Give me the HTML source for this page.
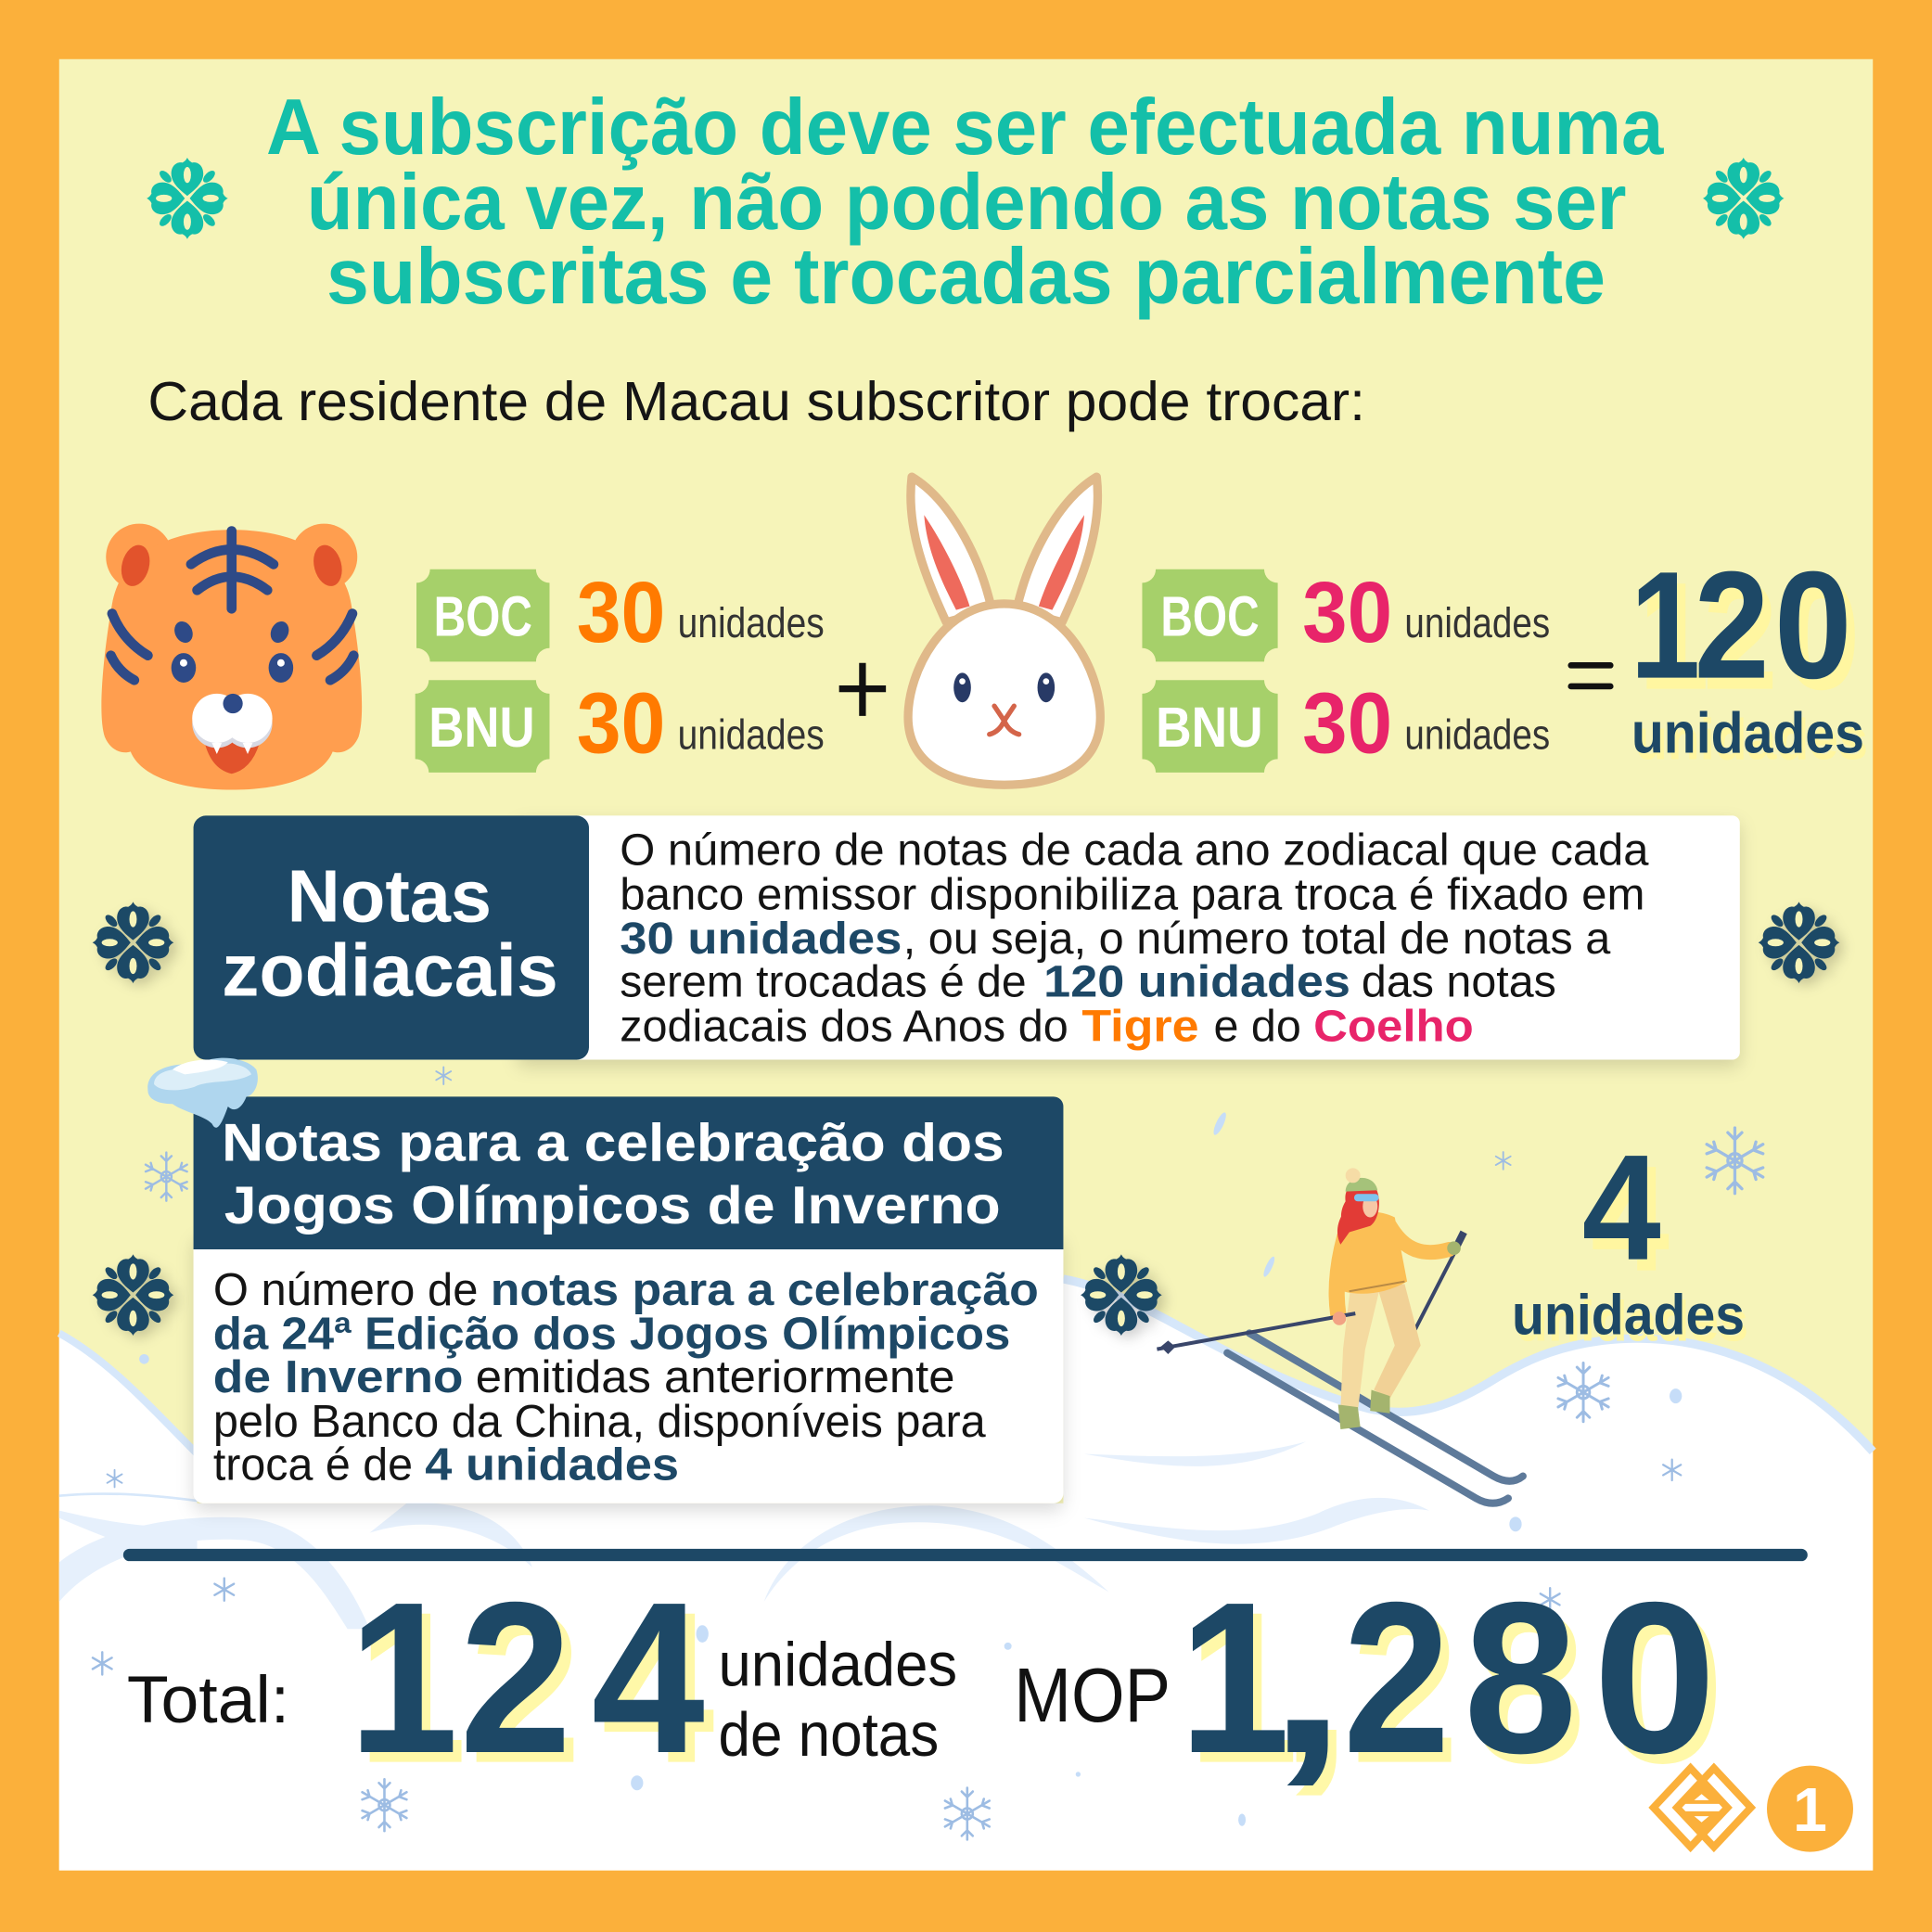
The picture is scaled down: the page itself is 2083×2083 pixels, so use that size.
<!DOCTYPE html>
<html><head><meta charset="utf-8">
<style>html,body{margin:0;padding:0;background:#FBB03B;overflow:hidden}svg{display:block}
text{font-family:"Liberation Sans",Arial,sans-serif}</style></head>
<body>
<svg xmlns="http://www.w3.org/2000/svg" xmlns:xlink="http://www.w3.org/1999/xlink" width="2083" height="2083" viewBox="0 0 1568 1568">
<defs>
<filter id="sh" x="-10%" y="-20%" width="120%" height="150%"><feDropShadow dx="0" dy="6" stdDeviation="7" flood-color="#000" flood-opacity="0.14"/></filter>
<filter id="fsh" x="-40%" y="-40%" width="190%" height="190%"><feDropShadow dx="5" dy="4" stdDeviation="5" flood-color="#000" flood-opacity="0.18"/></filter>
<g id="pet"><path d="M0,-2 C-5,-6 -13,-12 -13,-20 C-13,-27 -8,-30 -4,-29 C-2,-30 -1,-31 0,-33 C1,-31 2,-30 4,-29 C8,-30 13,-27 13,-20 C13,-12 5,-6 0,-2 Z"/><ellipse cx="0" cy="-19" rx="3" ry="6.5" fill="#F6F4B9"/></g>
<g id="flw">
<use xlink:href="#pet"/><use xlink:href="#pet" transform="rotate(90)"/><use xlink:href="#pet" transform="rotate(180)"/><use xlink:href="#pet" transform="rotate(270)"/>
<ellipse cx="0" cy="-25" rx="3.2" ry="6" transform="rotate(45)"/><ellipse cx="0" cy="-25" rx="3.2" ry="6" transform="rotate(135)"/><ellipse cx="0" cy="-25" rx="3.2" ry="6" transform="rotate(225)"/><ellipse cx="0" cy="-25" rx="3.2" ry="6" transform="rotate(315)"/>
</g>
<g id="sfb" fill="none" stroke="#9DBCE3" stroke-width="1.3" stroke-linecap="round">
<path d="M0,-14 V14 M-12,-7 L12,7 M-12,7 L12,-7 M-3,-12 L0,-9 L3,-12 M-3,12 L0,9 L3,12 M-12,-3 L-8,-4.5 L-9,-8 M12,3 L8,4.5 L9,8 M-12,3 L-8,4.5 L-9,8 M12,-3 L8,-4.5 L9,-8"/><circle r="3"/>
</g>
<g id="sfs" fill="none" stroke="#9DBCE3" stroke-width="1.4" stroke-linecap="round"><path d="M0,-7 V7 M-6,-3.5 L6,3.5 M-6,3.5 L6,-3.5"/></g>
</defs>

<rect width="1568" height="1568" fill="#FBB03B"/>
<rect x="48" y="48" width="1472" height="1470" fill="#F6F4B9"/>

<!-- snow -->
<path d="M48,1082 C90,1105 125,1145 160,1180 L160,1220 L863,1220 L863,1038 C900,1045 930,1062 960,1078 C1010,1105 1060,1130 1110,1143 C1150,1152 1180,1140 1215,1118 C1245,1100 1270,1092 1300,1088 C1370,1080 1450,1100 1520,1178 L1520,1518 L48,1518 Z" fill="#FFFFFF"/>
<path d="M48,1082 C90,1105 125,1145 160,1180" fill="none" stroke="#D6E7FA" stroke-width="6"/>
<path d="M863,1038 C900,1045 930,1062 960,1078 C1010,1105 1060,1130 1110,1143 C1150,1152 1180,1140 1215,1118 C1245,1100 1270,1092 1300,1088 C1370,1080 1450,1100 1520,1178" fill="none" stroke="#D6E7FA" stroke-width="7"/>
<g fill="#E6F0FC">
<path d="M48,1300 C80,1262 140,1246 200,1250 C240,1255 262,1290 282,1322 L300,1322 C282,1280 252,1236 200,1232 C140,1228 80,1242 48,1268 Z"/>
<path d="M300,1244 C350,1228 400,1242 432,1272 C420,1238 380,1216 330,1220 Z"/>
<path d="M620,1300 C650,1252 700,1232 760,1236 C820,1240 860,1270 900,1292 C860,1256 820,1226 760,1222 C700,1220 640,1246 620,1300 Z"/>
<path d="M880,1232 C940,1248 1010,1266 1080,1240 C1110,1228 1140,1222 1160,1226 C1130,1210 1100,1214 1070,1228 C1010,1252 950,1240 880,1232 Z"/>
<path d="M880,1180 C940,1190 1000,1200 1060,1170 C1000,1186 940,1182 880,1180 Z"/>
<path d="M48,1232 C90,1250 120,1262 160,1262 L160,1240 C120,1240 90,1236 48,1226 Z"/>
</g>
<path d="M48,1214 C90,1210 130,1214 160,1218" fill="none" stroke="#D6E7FA" stroke-width="2"/>

<!-- title -->
<g fill="#14BFA9" font-weight="bold" font-size="64">
<text x="216" y="125" textLength="1134" lengthAdjust="spacingAndGlyphs">A subscrição deve ser efectuada numa</text>
<text x="249" y="186" textLength="1071" lengthAdjust="spacingAndGlyphs">única vez, não podendo as notas ser</text>
<text x="265" y="246" textLength="1038" lengthAdjust="spacingAndGlyphs">subscritas e trocadas parcialmente</text>
</g>
<use xlink:href="#flw" transform="translate(152,161)" fill="#14BFA9"/>
<use xlink:href="#flw" transform="translate(1415,161)" fill="#14BFA9"/>

<text x="120" y="341" font-size="45" fill="#151515" textLength="988" lengthAdjust="spacingAndGlyphs">Cada residente de Macau subscritor pode trocar:</text>

<!-- tiger -->
<g>
<circle cx="113" cy="452" r="27" fill="#FF9E4F"/><circle cx="263" cy="452" r="27" fill="#FF9E4F"/>
<path d="M188,430 C240,430 278,450 285,490 C292,530 297,580 291,598 C286,610 276,612 270,610 C262,630 230,641 188,641 C146,641 114,630 106,610 C100,612 90,610 85,598 C79,580 84,530 91,490 C98,450 136,430 188,430 Z" fill="#FF9E4F"/>
<ellipse cx="110" cy="459" rx="11" ry="17" transform="rotate(15 110 459)" fill="#E2532C"/>
<ellipse cx="266" cy="459" rx="11" ry="17" transform="rotate(-15 266 459)" fill="#E2532C"/>
<g fill="none" stroke="#2E4A87" stroke-width="8" stroke-linecap="round">
<path d="M188,431 L188,494"/>
<path d="M155,458 Q188,434 222,458"/>
<path d="M160,479 Q188,457 217,479"/>
<path d="M91,498 Q100,520 120,532"/><path d="M90,532 Q96,545 109,552"/>
<path d="M286,498 Q277,520 257,532"/><path d="M287,532 Q281,545 268,552"/>
</g>
<ellipse cx="149" cy="513" rx="7" ry="9" transform="rotate(-25 149 513)" fill="#2E4A87"/>
<ellipse cx="227" cy="513" rx="7" ry="9" transform="rotate(25 227 513)" fill="#2E4A87"/>
<ellipse cx="149" cy="542" rx="10" ry="12" fill="#2E4A87"/><circle cx="149" cy="538" r="3" fill="#fff"/>
<ellipse cx="228" cy="542" rx="10" ry="12" fill="#2E4A87"/><circle cx="228" cy="538" r="3" fill="#fff"/>
<path d="M165,598 Q188,606 212,598 Q206,624 188,628 Q170,624 165,598 Z" fill="#E2532C"/>
<circle cx="176" cy="587" r="20" fill="#D7D9E3"/><circle cx="201" cy="587" r="20" fill="#D7D9E3"/>
<circle cx="176" cy="583" r="20" fill="#fff"/><circle cx="201" cy="583" r="20" fill="#fff"/>
<path d="M172,603 L176,612 L180,603 Z M197,603 L201,612 L205,603 Z" fill="#fff"/>
<ellipse cx="189" cy="571" rx="8" ry="8" fill="#2E4A87"/>
</g>

<!-- badges -->
<g fill="#A6D06A">
<path d="M349,462 H435 A11,11 0 0 0 446,473 V526 A11,11 0 0 0 435,537 H349 A11,11 0 0 0 338,526 V473 A11,11 0 0 0 349,462 Z"/>
<path d="M348,552 H435 A11,11 0 0 0 446,563 V616 A11,11 0 0 0 435,627 H348 A11,11 0 0 0 337,616 V563 A11,11 0 0 0 348,552 Z"/>
<path d="M938,462 H1026 A11,11 0 0 0 1037,473 V526 A11,11 0 0 0 1026,537 H938 A11,11 0 0 0 927,526 V473 A11,11 0 0 0 938,462 Z"/>
<path d="M938,552 H1026 A11,11 0 0 0 1037,563 V616 A11,11 0 0 0 1026,627 H938 A11,11 0 0 0 927,616 V563 A11,11 0 0 0 938,552 Z"/>
</g>
<g fill="#fff" font-weight="bold" font-size="46">
<text x="352" y="516" textLength="80" lengthAdjust="spacingAndGlyphs">BOC</text>
<text x="348" y="606" textLength="86" lengthAdjust="spacingAndGlyphs">BNU</text>
<text x="942" y="516" textLength="80" lengthAdjust="spacingAndGlyphs">BOC</text>
<text x="938" y="606" textLength="87" lengthAdjust="spacingAndGlyphs">BNU</text>
</g>
<g font-weight="bold" font-size="70">
<text x="468" y="521" fill="#FF7A00" textLength="72" lengthAdjust="spacingAndGlyphs">30</text>
<text x="468" y="611" fill="#FF7A00" textLength="72" lengthAdjust="spacingAndGlyphs">30</text>
<text x="1057" y="521" fill="#E8246A" textLength="73" lengthAdjust="spacingAndGlyphs">30</text>
<text x="1057" y="611" fill="#E8246A" textLength="73" lengthAdjust="spacingAndGlyphs">30</text>
</g>
<g font-size="34" fill="#333">
<text x="550" y="517" textLength="119" lengthAdjust="spacingAndGlyphs">unidades</text>
<text x="550" y="608" textLength="119" lengthAdjust="spacingAndGlyphs">unidades</text>
<text x="1140" y="517" textLength="118" lengthAdjust="spacingAndGlyphs">unidades</text>
<text x="1140" y="608" textLength="118" lengthAdjust="spacingAndGlyphs">unidades</text>
</g>
<path d="M681,559 H719 M700,538 V581" stroke="#111" stroke-width="5.5"/>
<path d="M1275,540 H1307 M1275,557 H1307" stroke="#111" stroke-width="5" stroke-linecap="round"/>

<!-- rabbit -->
<g stroke="#E0B98A" stroke-width="7" stroke-linejoin="round">
<path d="M740,387 C770,405 795,450 805,495 L768,505 C752,470 735,430 740,387 Z" fill="#fff"/>
<path d="M890,387 C860,405 835,450 825,495 L862,505 C878,470 895,430 890,387 Z" fill="#fff"/>
<path d="M815,490 C865,490 893,545 893,582 C893,620 860,637 815,637 C770,637 737,620 737,582 C737,545 765,490 815,490 Z" fill="#fff"/>
</g>
<path d="M750,418 C765,440 780,470 787,492 L776,495 C763,470 752,445 750,418 Z" fill="#EE6A5C"/>
<path d="M880,418 C865,440 850,470 843,492 L854,495 C867,470 878,445 880,418 Z" fill="#EE6A5C"/>
<ellipse cx="781" cy="558" rx="7" ry="12" fill="#283A66"/><circle cx="781" cy="553" r="2.5" fill="#fff"/>
<ellipse cx="849" cy="558" rx="7" ry="12" fill="#283A66"/><circle cx="849" cy="553" r="2.5" fill="#fff"/>
<path d="M807,573 L815,585 L823,573 M815,585 Q811,594 803,596 M815,585 Q819,594 827,596" fill="none" stroke="#D4654A" stroke-width="4" stroke-linecap="round"/>

<!-- 120 -->
<g font-weight="bold" font-size="124" fill="#FFF6A0">
<text x="1330" y="559" textLength="57" lengthAdjust="spacingAndGlyphs">1</text>
<text x="1382" y="559" textLength="61" lengthAdjust="spacingAndGlyphs">2</text>
<text x="1447" y="559" textLength="63" lengthAdjust="spacingAndGlyphs">0</text>
</g>
<g font-weight="bold" font-size="124" fill="#1D4866">
<text x="1323" y="550" textLength="57" lengthAdjust="spacingAndGlyphs">1</text>
<text x="1375" y="550" textLength="61" lengthAdjust="spacingAndGlyphs">2</text>
<text x="1440" y="550" textLength="63" lengthAdjust="spacingAndGlyphs">0</text>
</g>
<text x="1327" y="616" font-weight="bold" font-size="47" fill="#FFF6A0" textLength="189" lengthAdjust="spacingAndGlyphs">unidades</text>
<text x="1324" y="611" font-weight="bold" font-size="47" fill="#1D4866" textLength="189" lengthAdjust="spacingAndGlyphs">unidades</text>

<!-- zodiac box -->
<rect x="420" y="662" width="992" height="198" rx="6" fill="#fff" filter="url(#sh)"/>
<rect x="157" y="662" width="321" height="198" rx="10" fill="#1D4866"/>
<g fill="#fff" font-weight="bold" font-size="60">
<text x="233" y="748" textLength="166" lengthAdjust="spacingAndGlyphs">Notas</text>
<text x="180" y="808" textLength="273" lengthAdjust="spacingAndGlyphs">zodiacais</text>
</g>
<g font-size="36" fill="#141414">
<text x="503" y="702" textLength="835" lengthAdjust="spacingAndGlyphs">O número de notas de cada ano zodiacal que cada</text>
<text x="503" y="738" textLength="832" lengthAdjust="spacingAndGlyphs">banco emissor disponibiliza para troca é fixado em</text>
<text x="503" y="774" font-weight="bold" fill="#1D4866" textLength="229" lengthAdjust="spacingAndGlyphs">30 unidades</text>
<text x="733" y="774" textLength="574" lengthAdjust="spacingAndGlyphs">, ou seja, o número total de notas a</text>
<text x="503" y="809" textLength="330" lengthAdjust="spacingAndGlyphs">serem trocadas é de</text>
<text x="847" y="809" font-weight="bold" fill="#1D4866" textLength="249" lengthAdjust="spacingAndGlyphs">120 unidades</text>
<text x="1105" y="809" textLength="158" lengthAdjust="spacingAndGlyphs">das notas</text>
<text x="503" y="845" textLength="364" lengthAdjust="spacingAndGlyphs">zodiacais dos Anos do</text>
<text x="878" y="845" font-weight="bold" fill="#FF7A00" textLength="95" lengthAdjust="spacingAndGlyphs">Tigre</text>
<text x="985" y="845" textLength="71" lengthAdjust="spacingAndGlyphs">e do</text>
<text x="1066" y="845" font-weight="bold" fill="#E8246A" textLength="130" lengthAdjust="spacingAndGlyphs">Coelho</text>
</g>
<use xlink:href="#flw" transform="translate(108,765)" fill="#1D4866" filter="url(#fsh)"/>
<use xlink:href="#flw" transform="translate(1460,765)" fill="#1D4866" filter="url(#fsh)"/>

<!-- snowflakes & dots -->
<use xlink:href="#sfs" transform="translate(360,873)"/>
<use xlink:href="#sfs" transform="translate(1220,942)"/>
<use xlink:href="#sfb" transform="translate(1408,942) scale(1.9)"/>
<use xlink:href="#sfb" transform="translate(135,955) scale(1.4)"/>
<use xlink:href="#sfs" transform="translate(93,1200)"/>
<use xlink:href="#sfb" transform="translate(1285,1130) scale(1.7)"/>
<use xlink:href="#sfs" transform="translate(1357,1193) scale(1.2)"/>
<use xlink:href="#sfs" transform="translate(182,1290) scale(1.3)"/>
<use xlink:href="#sfs" transform="translate(83,1350) scale(1.3)"/>
<use xlink:href="#sfb" transform="translate(312,1465) scale(1.5)"/>
<use xlink:href="#sfb" transform="translate(785,1472) scale(1.5)"/>
<use xlink:href="#sfs" transform="translate(1258,1298) scale(1.3)"/>
<g fill="#C6DDF8">
<ellipse cx="1360" cy="1133" rx="5" ry="6"/><ellipse cx="1230" cy="1237" rx="5" ry="6"/><ellipse cx="517" cy="1447" rx="5" ry="6"/><ellipse cx="570" cy="1326" rx="5" ry="7"/><ellipse cx="1008" cy="1477" rx="3" ry="5"/><circle cx="875" cy="1440" r="2"/><circle cx="117" cy="1103" r="4"/><circle cx="818" cy="1336" r="3"/>
<ellipse cx="990" cy="912" rx="3" ry="10" transform="rotate(25 990 912)"/><ellipse cx="1030" cy="1028" rx="2.5" ry="9" transform="rotate(25 1030 1028)"/>
</g>

<!-- olympic box -->
<rect x="157" y="1000" width="706" height="220" rx="8" fill="#fff" filter="url(#sh)"/>
<path d="M165,890 H855 A8,8 0 0 1 863,898 V1014 H157 V898 A8,8 0 0 1 165,890 Z" fill="#1D4866"/>
<g fill="#fff" font-weight="bold" font-size="43">
<text x="180" y="942" textLength="635" lengthAdjust="spacingAndGlyphs">Notas para a celebração dos</text>
<text x="182" y="993" textLength="630" lengthAdjust="spacingAndGlyphs">Jogos Olímpicos de Inverno</text>
</g>
<!-- snow cap -->
<path d="M120,885 C118,868 140,862 160,864 C175,855 200,858 208,868 C212,880 205,890 200,890 C196,900 190,903 185,898 C180,912 176,920 172,912 C165,905 150,903 140,896 C128,896 120,892 120,885 Z" fill="#AFD6EE"/>
<path d="M125,880 C125,868 145,866 160,868 C178,860 200,862 204,872 C190,880 170,876 158,882 C145,886 130,886 125,880 Z" fill="#DCEEF8"/>
<path d="M140,868 C150,860 170,858 185,862 C180,868 165,870 150,872 Z" fill="#fff"/>

<g font-size="37" fill="#141414">
<text x="173" y="1059" textLength="215" lengthAdjust="spacingAndGlyphs">O número de</text>
<text x="398" y="1059" font-weight="bold" fill="#1D4866" textLength="445" lengthAdjust="spacingAndGlyphs">notas para a celebração</text>
<text x="173" y="1095" font-weight="bold" fill="#1D4866" textLength="647" lengthAdjust="spacingAndGlyphs">da 24ª Edição dos Jogos Olímpicos</text>
<text x="173" y="1130" font-weight="bold" fill="#1D4866" textLength="203" lengthAdjust="spacingAndGlyphs">de Inverno</text>
<text x="386" y="1130" textLength="389" lengthAdjust="spacingAndGlyphs">emitidas anteriormente</text>
<text x="173" y="1166" textLength="627" lengthAdjust="spacingAndGlyphs">pelo Banco da China, disponíveis para</text>
<text x="173" y="1201" textLength="162" lengthAdjust="spacingAndGlyphs">troca é de</text>
<text x="345" y="1201" font-weight="bold" fill="#1D4866" textLength="206" lengthAdjust="spacingAndGlyphs">4 unidades</text>
</g>
<use xlink:href="#flw" transform="translate(108,1051)" fill="#1D4866" filter="url(#fsh)"/>
<use xlink:href="#flw" transform="translate(910,1051)" fill="#1D4866" filter="url(#fsh)"/>

<!-- skier -->
<g>
<path d="M996,1098 L1198,1216 Q1212,1224 1224,1216" fill="none" stroke="#5E7A9A" stroke-width="6" stroke-linecap="round"/>
<path d="M1014,1082 L1212,1198 Q1226,1206 1236,1198" fill="none" stroke="#5E7A9A" stroke-width="6" stroke-linecap="round"/>
<line x1="1148" y1="1080" x2="1186" y2="1006" stroke="#39466A" stroke-width="3"/>
<path d="M1182,1012 L1188,1000" stroke="#39466A" stroke-width="6"/>
<path d="M1096,1045 L1120,1045 L1108,1095 L1102,1145 L1088,1143 L1090,1095 Z" fill="#F4DAA0"/>
<path d="M1118,1045 L1140,1042 L1153,1092 L1128,1135 L1115,1128 L1132,1092 Z" fill="#F1D196"/>
<path d="M1086,1140 L1102,1142 L1104,1158 L1088,1160 Z" fill="#A4B46E"/>
<path d="M1113,1128 L1128,1133 L1128,1147 L1112,1145 Z" fill="#A4B46E"/>
<path d="M1092,988 C1105,982 1120,982 1132,988 L1142,1040 C1125,1050 1105,1052 1090,1048 Z" fill="#FBBF55"/>
<path d="M1094,995 C1086,1020 1083,1045 1086,1066" fill="none" stroke="#FBBF55" stroke-width="13" stroke-linecap="round"/>
<path d="M1128,995 C1140,1015 1155,1020 1176,1014" fill="none" stroke="#FBBF55" stroke-width="12" stroke-linecap="round"/>
<path d="M1095,1048 L1140,1040" stroke="#B98A45" stroke-width="1.5"/>
<line x1="939" y1="1095" x2="1100" y2="1066" stroke="#39466A" stroke-width="3"/>
<path d="M948,1088 L954,1093 L948,1099 L942,1093 Z" fill="#39466A"/>
<circle cx="1087" cy="1070" r="5.5" fill="#F2A384"/>
<circle cx="1180" cy="1013" r="5.5" fill="#A4B46E"/>
<path d="M1092,975 C1090,960 1105,955 1115,962 C1122,970 1120,990 1112,995 L1095,1000 C1088,995 1086,985 1092,975 Z" fill="#E23B36"/>
<path d="M1093,980 C1084,992 1084,1002 1088,1010 L1098,996 Z" fill="#E23B36"/>
<ellipse cx="1112" cy="979" rx="6" ry="9" fill="#F6C8A6"/>
<rect x="1099" y="969" width="20" height="6" rx="3" fill="#7EC4EE"/>
<path d="M1092,967 C1092,954 1115,951 1118,966 Z" fill="#A5C27A"/>
<circle cx="1098" cy="954" r="6" fill="#F6DCA6"/>
</g>

<!-- 4 unidades -->
<text x="1291" y="1031" font-weight="bold" font-size="122" fill="#FFF6A0" textLength="64" lengthAdjust="spacingAndGlyphs">4</text>
<text x="1284" y="1022" font-weight="bold" font-size="122" fill="#1D4866" textLength="64" lengthAdjust="spacingAndGlyphs">4</text>
<text x="1230" y="1088" font-weight="bold" font-size="46" fill="#FFF6A0" textLength="189" lengthAdjust="spacingAndGlyphs">unidades</text>
<text x="1227" y="1083" font-weight="bold" font-size="46" fill="#1D4866" textLength="189" lengthAdjust="spacingAndGlyphs">unidades</text>

<!-- divider -->
<line x1="105" y1="1262" x2="1462" y2="1262" stroke="#1D4866" stroke-width="10" stroke-linecap="round"/>

<!-- totals -->
<text x="103" y="1398" font-size="54" fill="#111" textLength="132" lengthAdjust="spacingAndGlyphs">Total:</text>
<g font-weight="bold" font-size="175" fill="#FFF8A8">
<text x="290" y="1430" textLength="89" lengthAdjust="spacingAndGlyphs">1</text>
<text x="381" y="1430" textLength="91" lengthAdjust="spacingAndGlyphs">2</text>
<text x="488" y="1430" textLength="92" lengthAdjust="spacingAndGlyphs">4</text>
<text x="964" y="1430" textLength="90" lengthAdjust="spacingAndGlyphs">1</text>
<text x="1036" y="1430" textLength="64" lengthAdjust="spacingAndGlyphs">,</text>
<text x="1097" y="1430" textLength="87" lengthAdjust="spacingAndGlyphs">2</text>
<text x="1195" y="1430" textLength="92" lengthAdjust="spacingAndGlyphs">8</text>
<text x="1300" y="1430" textLength="100" lengthAdjust="spacingAndGlyphs">0</text>
</g>
<g font-weight="bold" font-size="175" fill="#1D4866">
<text x="283" y="1422" textLength="89" lengthAdjust="spacingAndGlyphs">1</text>
<text x="373" y="1422" textLength="91" lengthAdjust="spacingAndGlyphs">2</text>
<text x="480" y="1422" textLength="92" lengthAdjust="spacingAndGlyphs">4</text>
<text x="957" y="1422" textLength="90" lengthAdjust="spacingAndGlyphs">1</text>
<text x="1029" y="1422" textLength="64" lengthAdjust="spacingAndGlyphs">,</text>
<text x="1090" y="1422" textLength="87" lengthAdjust="spacingAndGlyphs">2</text>
<text x="1188" y="1422" textLength="92" lengthAdjust="spacingAndGlyphs">8</text>
<text x="1293" y="1422" textLength="100" lengthAdjust="spacingAndGlyphs">0</text>
</g>
<g font-size="50" fill="#111">
<text x="583" y="1368" textLength="194" lengthAdjust="spacingAndGlyphs">unidades</text>
<text x="583" y="1425" textLength="179" lengthAdjust="spacingAndGlyphs">de notas</text>
</g>
<text x="823" y="1397" font-size="62" fill="#111" textLength="127" lengthAdjust="spacingAndGlyphs">MOP</text>

<!-- logo -->
<g fill="none" stroke="#FBB03B" stroke-width="6" stroke-linejoin="miter">
<path d="M1342,1467 L1372,1435 L1402,1467 L1372,1499 Z"/>
<path d="M1361,1467 L1391,1435 L1421,1467 L1391,1499 Z"/>
</g>
<g fill="#FBB03B">
<path d="M1381,1448 L1360,1464 L1402,1464 Z"/>
<path d="M1360,1470 L1402,1470 L1381,1487 Z"/>
</g>
<g fill="#fff"><path d="M1381,1456 L1375,1461 L1387,1461 Z"/><path d="M1375,1474 L1387,1474 L1381,1479 Z"/></g>
<circle cx="1469" cy="1468" r="35" fill="#FBB03B"/>
<text x="1469" y="1486" font-weight="bold" font-size="50" fill="#fff" text-anchor="middle">1</text>
</svg>
</body></html>
